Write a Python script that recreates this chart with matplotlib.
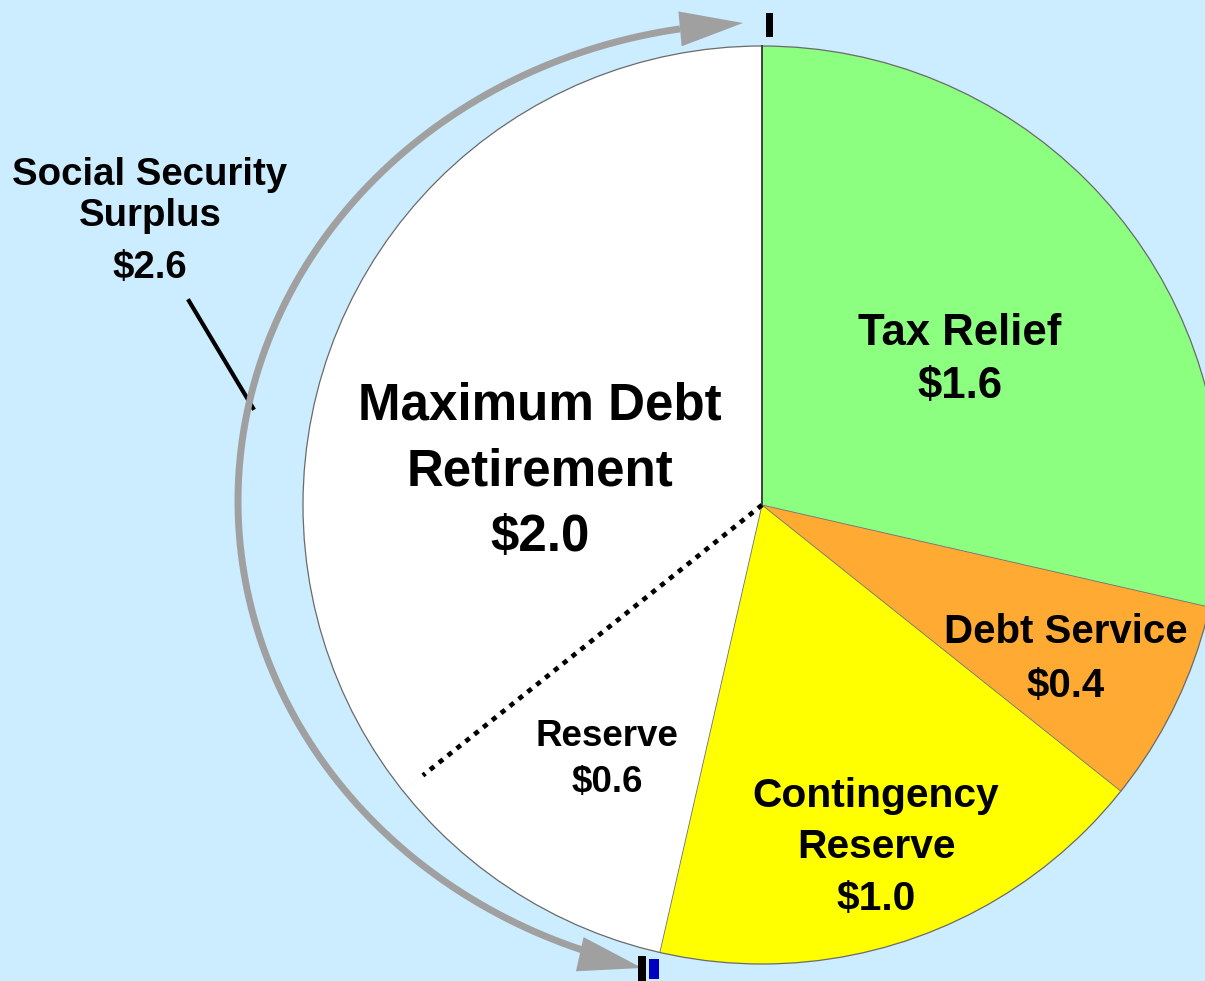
import numpy as np
import matplotlib
matplotlib.use("Agg")
import matplotlib.pyplot as plt
from matplotlib.patches import Polygon, Rectangle, Circle

# ---------------- data ----------------
categories = ["Tax Relief", "Debt Service", "Contingency\nReserve", "Reserve",
              "Maximum Debt\nRetirement"]
values = [1.6, 0.4, 1.0, 0.6, 2.0]
colors = ["#8CFF80", "#FFAA33", "#FFFF00", "#FFFFFF", "#FFFFFF"]
surplus_label = "Social Security\nSurplus"
surplus_value = 2.6

# ---------------- layout ----------------
W, H = 1205, 981
def Y(y):
    return H - y

label_x = [960, 1066, 876, 607, 540]
label_baselines = [[345, 398], [643, 697], [807, 858, 910], [746, 792], [419, 485, 551]]
label_sizes = [31.5, 29, 29.3, 26.5, 36.8]
FONT = "Liberation Sans"

fig = plt.figure(figsize=(W / 100, H / 100), dpi=100)
fig.patch.set_facecolor("#CCECFF")
ax = fig.add_axes([0, 0, 1, 1])

cx, cy, R = 762, Y(505), 459
ax.pie(values, colors=colors, startangle=90, counterclock=False,
       center=(cx, cy), radius=R, wedgeprops=dict(linewidth=0, edgecolor="none"))
ax.set_xlim(0, W)
ax.set_ylim(0, H)
ax.set_aspect("equal")
ax.axis("off")

ax.add_patch(Circle((cx, cy), R, fill=False, ec="#6a6a6a", lw=0.9, zorder=3))

total = sum(values)
cum = np.concatenate([[0], np.cumsum(values)])
angles = np.radians(90 - 360 * cum / total)
for i in range(4):
    a = angles[i]
    ax.plot([cx, cx + R * np.cos(a)], [cy, cy + R * np.sin(a)],
            color="#404040" if i == 0 else "#707070", lw=1.4 if i == 0 else 0.6, zorder=3)
# dotted divider between Reserve and Maximum Debt Retirement
a = angles[4]
ax.plot([cx, cx + 0.945 * R * np.cos(a)], [cy, cy + 0.945 * R * np.sin(a)],
        color="black", lw=3.4, linestyle=(0, (1.1, 1.3)), zorder=3)

# labels
for lab, v, x, bl, fs in zip(categories, values, label_x, label_baselines, label_sizes):
    lines = lab.split("\n") + [f"${v:.1f}"]
    for line, b in zip(lines, bl):
        ax.text(x, Y(b), line, ha="center", va="baseline", fontsize=fs,
                fontweight="bold", family=FONT, zorder=5)

# Social Security surplus label
s_lines = surplus_label.split("\n") + [f"${surplus_value:.1f}"]
for line, b in zip(s_lines, [185, 226, 278]):
    ax.text(150, Y(b), line, ha="center", va="baseline", fontsize=27.6,
            fontweight="bold", family=FONT, zorder=5)
ax.plot([189, 253], [Y(301), Y(408)], color="black", lw=3, zorder=4)

# gray bracket arc with arrowheads
ecx, ecy, ea, eb = 762, Y(501), 524, 478
t = np.linspace(np.radians(250), np.radians(99), 400)
ex = ecx + ea * np.cos(t)
ey = ecy + eb * np.sin(t)
gray = "#A0A0A0"
ax.plot(ex, ey, color=gray, lw=5, solid_capstyle="butt", zorder=4)

def head(base, tip, hw):
    base = np.asarray(base, float)
    tip = np.asarray(tip, float)
    d = tip - base
    n = np.array([-d[1], d[0]]) / np.hypot(*d) * hw
    ax.add_patch(Polygon([tip, base + n, base - n], closed=True, fc=gray, ec="none", zorder=4))

head((ex[-1], ey[-1]), (743, Y(23)), 17.5)
head((ex[0] - 3, ey[0] - 4), (642, Y(968)), 17.5)

# small marks
ax.add_patch(Rectangle((765.5, Y(37)), 7.5, 24, fc="black", ec="none", zorder=6))
ax.add_patch(Rectangle((638, Y(981)), 8, 25, fc="black", ec="none", zorder=6))
ax.add_patch(Rectangle((649, Y(979)), 10, 20, fc="#0000C0", ec="none", zorder=6))

fig.savefig("out.png", dpi=100, facecolor=fig.get_facecolor())
